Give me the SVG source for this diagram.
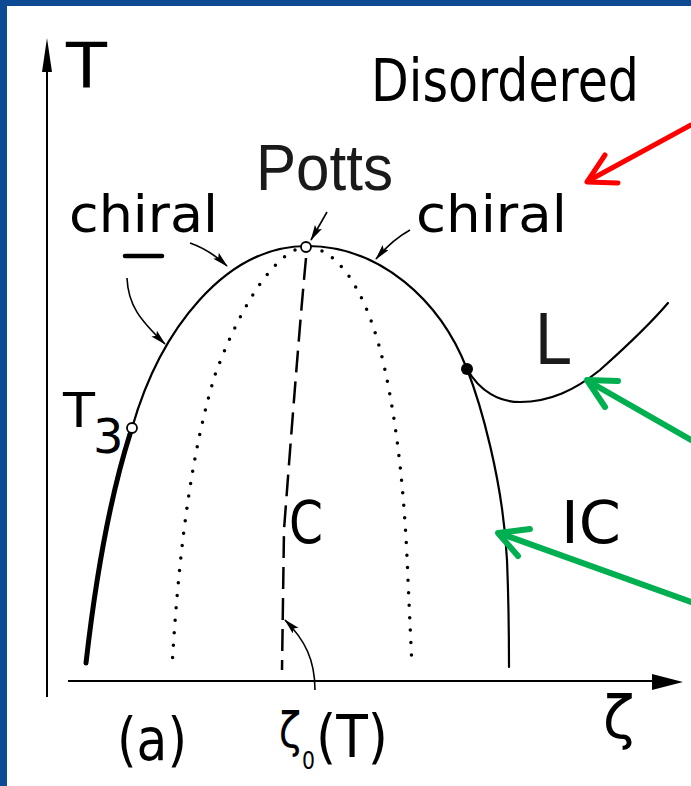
<svg xmlns="http://www.w3.org/2000/svg" width="691" height="786" viewBox="0 0 691 786">
<defs>
<style>
.lbl{font-family:"DejaVu Sans","Liberation Sans",sans-serif;fill:#000}
.sl{font-family:"Liberation Sans","DejaVu Sans",sans-serif;fill:#1a1a1a}
.curve{fill:none;stroke:#000;stroke-width:2.2;stroke-linecap:round}
.dot{fill:none;stroke:#000;stroke-width:3.5;stroke-linecap:round;stroke-dasharray:0 12.5}
.ann{fill:none;stroke:#000;stroke-width:1.6;marker-end:url(#ah)}
.red{fill:none;stroke:#ff0000;stroke-width:5;stroke-linecap:round;stroke-linejoin:round}
.grn{fill:none;stroke:#00b050;stroke-width:6;stroke-linecap:round;stroke-linejoin:round}
</style>
<marker id="ah" markerUnits="userSpaceOnUse" markerWidth="18" markerHeight="10" refX="15" refY="4" orient="auto">
<path d="M0,0 L16,4 L0,8 L3,4 Z" fill="#000"/>
</marker>
</defs>
<rect x="0" y="0" width="691" height="786" fill="#0e4a93"/>
<rect x="7" y="6" width="684" height="780" fill="#ffffff"/>

<g id="axes">
<line x1="47" y1="697" x2="47" y2="60" stroke="#000" stroke-width="2"/>
<polygon points="47,38 42,72 52,72" fill="#000"/>
<line x1="68" y1="681" x2="660" y2="681" stroke="#000" stroke-width="2"/>
<polygon points="683,682 652,674 652,690" fill="#000"/>
</g>

<g id="phase-lines">
<path class="curve" d="M132,428 C160,330 225,246 307,246 C380,246 440,300 467,369 C480,402 503,480 507,560 C509,610 509,640 509,667"/>
<path class="curve" d="M467,369 C480,392 500,402 520,402 C550,402 575,390 600,370 C620,352 645,330 668,303"/>
<path fill="none" stroke="#000" stroke-width="5" stroke-linecap="round" d="M130,434 C118,472 100,540 86,663"/>
<path class="dot" d="M295,250 C265,265 235,320 215,375 C195,440 180,530 172,667"/>
<path class="dot" d="M322,251 C345,262 370,300 385,370 C398,430 405,500 408,580 L412,667"/>
<path fill="none" stroke="#000" stroke-width="2.5" stroke-dasharray="22 9" d="M306,258 C300,320 290,450 284,530 L282,670"/>
</g>

<g id="node-potts">
<circle cx="306" cy="247" r="5" fill="#fff" stroke="#000" stroke-width="1.8"/>
<text class="sl" x="256" y="190" font-size="64" textLength="137" lengthAdjust="spacingAndGlyphs">Potts</text>
</g>
<g id="node-t3">
<circle cx="132" cy="428" r="5" fill="#fff" stroke="#000" stroke-width="1.8"/>
<text class="lbl" x="63" y="427" font-size="48"><tspan textLength="32" lengthAdjust="spacingAndGlyphs">T</tspan><tspan dy="26" dx="-2">3</tspan></text>
</g>
<g id="node-lifshitz">
<circle cx="467" cy="369" r="6" fill="#000"/>
<text class="sl" x="535" y="364" font-size="74" textLength="37" lengthAdjust="spacingAndGlyphs">L</text>
</g>

<g id="labels">
<text class="lbl" x="66" y="87" font-size="62" textLength="41" lengthAdjust="spacingAndGlyphs">T</text>
<text class="lbl" x="371" y="101" font-size="58" textLength="268" lengthAdjust="spacingAndGlyphs">Disordered</text>
<text class="lbl" x="69" y="232" font-size="52" textLength="149" lengthAdjust="spacingAndGlyphs">chiral</text>
<line x1="125" y1="256" x2="162" y2="256" stroke="#000" stroke-width="4.5" stroke-linecap="round"/>
<text class="lbl" x="416" y="232" font-size="52" textLength="151" lengthAdjust="spacingAndGlyphs">chiral</text>
<text class="lbl" x="289" y="543" font-size="58" textLength="34" lengthAdjust="spacingAndGlyphs">C</text>
<text class="lbl" x="561" y="543" font-size="58" textLength="60" lengthAdjust="spacingAndGlyphs">IC</text>
<text class="lbl" x="117" y="760" font-size="58" textLength="70" lengthAdjust="spacingAndGlyphs">(a)</text>
<text class="lbl" x="279" y="747" font-size="48" textLength="22" lengthAdjust="spacingAndGlyphs">ζ</text>
<text class="lbl" x="302" y="769" font-size="24" textLength="13" lengthAdjust="spacingAndGlyphs">0</text>
<text class="lbl" x="316" y="757" font-size="58" textLength="72" lengthAdjust="spacingAndGlyphs">(T)</text>
<text class="lbl" x="603" y="738" font-size="58">ζ</text>
</g>

<g id="connectors">
<path class="ann" d="M190,243 Q210,250 227,266"/>
<path class="ann" d="M127,278 C128,305 140,320 165,344"/>
<path class="ann" d="M327,212 L311,240"/>
<path class="ann" d="M410,230 Q392,240 376,259"/>
<path class="ann" d="M315,690 C315,660 305,640 285,620"/>
<path class="red" d="M691,125 L588,181"/>
<path class="red" d="M605,155 L587,182 L618,183"/>
<path class="grn" d="M691,440 L588,381"/>
<path class="grn" d="M618,381 L587,380 L605,407"/>
<path class="grn" d="M691,602 L499,533"/>
<path class="grn" d="M530,529 L498,533 L518,556"/>
</g>
</svg>
